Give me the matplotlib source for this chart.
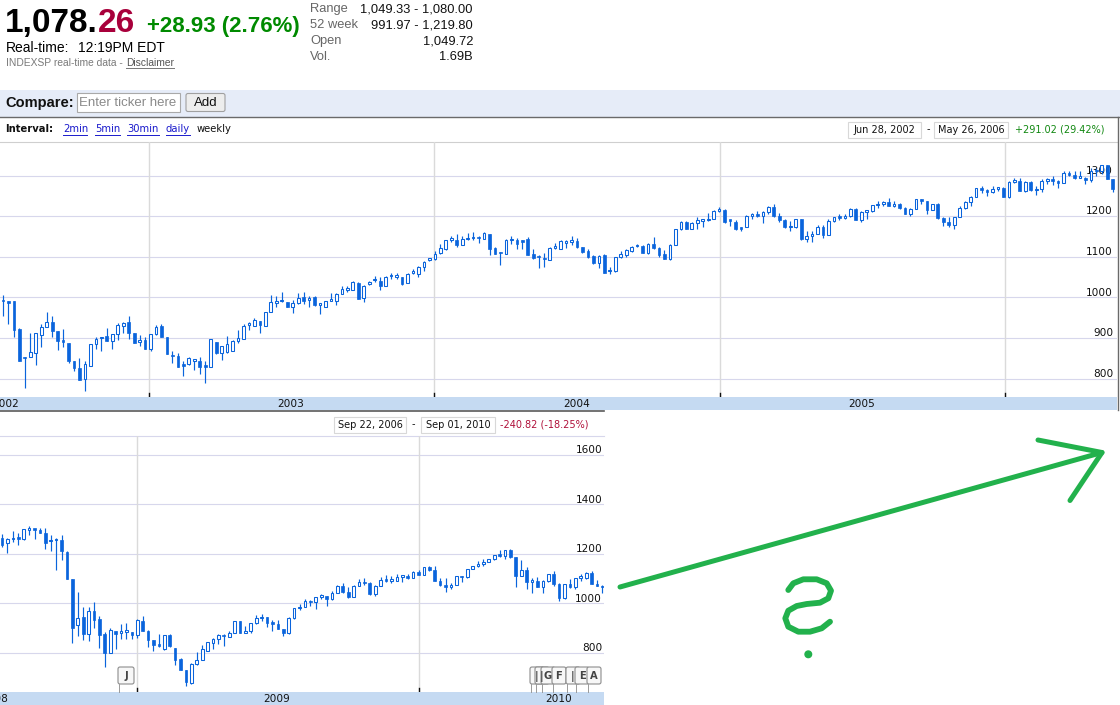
import numpy as np
import pandas as pd
import matplotlib
matplotlib.use('Agg')
import matplotlib.pyplot as plt
import matplotlib.dates as mdates
from matplotlib.patches import Rectangle, FancyBboxPatch, Circle
from matplotlib import transforms

# ------------------------------------------------------------------ data
top_start = '2002-06-28'          # weekly candles, Jun 28 2002 .. May 26 2006
top_open = [992, 992, 990, 922, 852, 854, 862, 907, 928, 940,
            916, 892, 888, 844, 825, 798, 831, 884, 899, 905,
            893, 910, 930, 940, 912, 891, 895, 873, 909, 930,
            902, 857, 856, 834, 836, 844, 842, 830, 829, 891,
            862, 866, 868, 893, 898, 933, 930, 942, 930, 965,
            987, 990, 989, 976, 985, 1000, 994, 1000, 982, 976,
            991, 992, 1008, 1019, 1018, 1036, 998, 1033, 1042, 1039,
            1029, 1052, 1051, 1049, 1035, 1061, 1058, 1074, 1093, 1094,
            1109, 1120, 1141, 1142, 1130, 1143, 1145, 1146, 1144, 1157,
            1121, 1109, 1107, 1140, 1142, 1138, 1144, 1107, 1100, 1095,
            1093, 1122, 1120, 1134, 1137, 1138, 1124, 1113, 1102, 1084,
            1104, 1064, 1064, 1100, 1105, 1113, 1126, 1127, 1108, 1131,
            1121, 1107, 1094, 1130, 1167, 1185, 1169, 1182, 1189, 1190,
            1193, 1213, 1214, 1189, 1185, 1170, 1173,
            1201, 1206, 1201,
            1211, 1222, 1200, 1190, 1172, 1172, 1192, 1143, 1152, 1157,
            1172, 1154, 1189, 1198, 1196, 1201, 1217, 1191, 1211, 1212,
            1227, 1229, 1234, 1226, 1230, 1220, 1205, 1218, 1241, 1237,
            1215, 1229, 1195, 1186, 1179, 1198, 1220, 1235, 1248, 1268,
            1265, 1259, 1267, 1268, 1248, 1285, 1287, 1261, 1283, 1264,
            1266, 1287, 1289, 1287, 1282, 1307, 1302, 1295, 1295, 1289,
            1311, 1310, 1326, 1291, 1267]
top_high = [1005, 992, 992, 924, 854, 912, 913, 935, 963, 954,
            916, 922, 888, 844, 850, 843, 884, 902, 902, 924,
            910, 936, 939, 954, 913, 908, 903, 910, 932, 934,
            903, 868, 864, 843, 852, 847, 852, 842, 898, 891,
            879, 905, 895, 919, 934, 938, 949, 942, 963, 1006,
            1002, 1014, 989, 994, 1010, 1014, 1002, 1004, 985, 990,
            1010, 1010, 1028, 1027, 1039, 1037, 1031, 1039, 1053, 1049,
            1052, 1061, 1061, 1050, 1060, 1070, 1077, 1089, 1096, 1114,
            1132, 1142, 1152, 1156, 1150, 1159, 1160, 1152, 1162, 1157,
            1124, 1112, 1143, 1150, 1145, 1142, 1148, 1120, 1104, 1110,
            1125, 1133, 1142, 1142, 1150, 1145, 1125, 1118, 1104, 1103,
            1106, 1074, 1100, 1115, 1120, 1126, 1131, 1130, 1133, 1148,
            1124, 1116, 1132, 1168, 1187, 1187, 1185, 1198, 1192, 1208,
            1214, 1222, 1218, 1191, 1190, 1172, 1203,
            1208, 1212, 1212,
            1225, 1229, 1207, 1192, 1189, 1192, 1193, 1164, 1164, 1178,
            1178, 1192, 1199, 1205, 1206, 1220, 1219, 1212, 1212, 1228,
            1237, 1238, 1245, 1237, 1232, 1223, 1221, 1243, 1243, 1237,
            1230, 1233, 1197, 1197, 1199, 1224, 1236, 1249, 1269, 1273,
            1266, 1275, 1272, 1271, 1286, 1295, 1294, 1286, 1287, 1275,
            1291, 1293, 1298, 1289, 1310, 1310, 1310, 1310, 1296, 1318,
            1318, 1326, 1327, 1291, 1285]
top_low = [953, 935, 903, 842, 776, 854, 833, 877, 928, 903,
           870, 877, 837, 818, 796, 769, 831, 872, 868, 893,
           872, 895, 912, 897, 888, 880, 873, 868, 907, 901,
           860, 839, 828, 806, 833, 820, 811, 790, 828, 860,
           845, 864, 868, 887, 898, 920, 930, 912, 930, 965,
           975, 988, 975, 961, 984, 984, 976, 979, 959, 975,
           990, 982, 1008, 1014, 1017, 995, 989, 1031, 1037, 1017,
           1029, 1044, 1045, 1031, 1035, 1058, 1049, 1066, 1089, 1093,
           1107, 1117, 1137, 1123, 1128, 1140, 1140, 1134, 1144, 1105,
           1107, 1080, 1107, 1132, 1120, 1118, 1104, 1095, 1073, 1075,
           1092, 1118, 1118, 1122, 1128, 1122, 1108, 1098, 1083, 1073,
           1060, 1058, 1063, 1098, 1100, 1112, 1124, 1108, 1106, 1120,
           1100, 1094, 1093, 1128, 1165, 1168, 1168, 1168, 1172, 1188,
           1192, 1210, 1183, 1175, 1165, 1164, 1172,
           1193, 1198, 1184,
           1205, 1199, 1186, 1171, 1163, 1171, 1142, 1137, 1137, 1155,
           1146, 1153, 1186, 1191, 1192, 1199, 1190, 1186, 1194, 1210,
           1221, 1225, 1225, 1222, 1218, 1205, 1201, 1218, 1230, 1205,
           1214, 1192, 1176, 1174, 1168, 1198, 1218, 1226, 1248, 1258,
           1250, 1258, 1262, 1248, 1245, 1281, 1261, 1260, 1262, 1253,
           1260, 1280, 1277, 1268, 1282, 1299, 1291, 1294, 1280, 1283,
           1298, 1303, 1291, 1259, 1252]
top_close = [990, 987, 920, 844, 850, 865, 912, 928, 940, 916,
             893, 890, 842, 827, 796, 835, 884, 897, 901, 893,
             910, 932, 936, 912, 888, 893, 873, 910, 928, 901,
             860, 855, 828, 832, 850, 845, 828, 829, 897, 862,
             879, 885, 893, 899, 930, 935, 944, 932, 963, 988,
             989, 993, 976, 985, 998, 992, 996, 980, 983, 990,
             993, 1008, 1020, 1021, 1037, 996, 1029, 1036, 1044, 1027,
             1051, 1053, 1052, 1033, 1058, 1062, 1074, 1088, 1095, 1107,
             1122, 1140, 1142, 1130, 1144, 1145, 1146, 1145, 1158, 1119,
             1107, 1108, 1142, 1141, 1132, 1136, 1105, 1097, 1099, 1094,
             1122, 1124, 1138, 1135, 1138, 1124, 1111, 1099, 1084, 1102,
             1061, 1066, 1099, 1107, 1116, 1124, 1127, 1109, 1131, 1121,
             1105, 1094, 1130, 1167, 1185, 1169, 1183, 1191, 1190, 1192,
             1212, 1214, 1185, 1188, 1167, 1168, 1201,
             1206, 1201, 1211,
             1222, 1200, 1190, 1172, 1172, 1192, 1143, 1152, 1157, 1172,
             1154, 1189, 1198, 1196, 1201, 1217, 1191, 1211, 1212, 1227,
             1229, 1234, 1226, 1230, 1220, 1205, 1218, 1241, 1237, 1215,
             1229, 1195, 1186, 1179, 1198, 1220, 1235, 1248, 1268, 1265,
             1259, 1267, 1268, 1248, 1285, 1287, 1261, 1283, 1264, 1266,
             1287, 1289, 1287, 1282, 1307, 1302, 1295, 1295, 1289, 1311,
             1310, 1326, 1291, 1267, 1280]

bot_start = '2008-07-11'          # weekly candles, Jul 11 2008 .. Aug 27 2010
bot_open = [1263, 1243, 1258, 1262, 1260, 1298, 1298, 1296, 1286, 1251,
            1254, 1255, 1209, 1097, 913, 943, 876, 967, 936, 877,
            799, 889, 880, 884, 886, 870, 929, 890, 850, 830,
            816, 870, 819, 776, 732, 678, 756, 769, 806, 839,
            857, 868, 863, 879, 929, 882, 887, 919, 940, 946,
            921, 918, 896, 879, 940, 979, 987, 1010, 1004, 1026,
            1029, 1016, 1042, 1068, 1044, 1025, 1071, 1087, 1080, 1036,
            1069, 1093, 1091, 1091, 1106, 1106, 1102, 1127, 1115, 1145,
            1136, 1092, 1074, 1066, 1075, 1109, 1105, 1139, 1150, 1160,
            1167, 1178, 1194, 1192, 1217, 1187, 1111, 1136, 1088, 1089,
            1065, 1092, 1117, 1076, 1022, 1078, 1065, 1102, 1102, 1122,
            1079, 1071]
bot_high = [1280, 1263, 1292, 1283, 1300, 1314, 1300, 1306, 1306, 1276,
            1263, 1276, 1210, 1098, 1044, 985, 985, 1007, 949, 886,
            900, 890, 916, 920, 886, 936, 947, 893, 850, 875,
            870, 875, 819, 779, 732, 758, 803, 832, 843, 859,
            875, 875, 889, 929, 930, 909, 920, 951, 956, 946,
            934, 931, 898, 943, 980, 996, 1018, 1013, 1027, 1039,
            1031, 1048, 1074, 1080, 1065, 1073, 1097, 1101, 1085, 1072,
            1105, 1113, 1112, 1120, 1108, 1117, 1130, 1133, 1145, 1150,
            1150, 1104, 1104, 1081, 1110, 1112, 1139, 1151, 1170, 1181,
            1181, 1194, 1214, 1217, 1219, 1188, 1173, 1148, 1104, 1106,
            1093, 1120, 1131, 1080, 1078, 1099, 1103, 1120, 1128, 1129,
            1095, 1075]
bot_low = [1226, 1202, 1247, 1236, 1256, 1276, 1261, 1283, 1218, 1212,
           1135, 1175, 1097, 839, 866, 853, 846, 900, 819, 742,
           799, 815, 855, 855, 855, 859, 890, 822, 806, 822,
           812, 822, 752, 732, 664, 675, 752, 769, 806, 815,
           836, 826, 863, 879, 878, 879, 880, 916, 930, 904,
           888, 896, 869, 875, 935, 972, 986, 990, 978, 1018,
           991, 1015, 1040, 1041, 1020, 1025, 1070, 1074, 1033, 1030,
           1069, 1085, 1083, 1090, 1086, 1097, 1102, 1115, 1115, 1130,
           1090, 1071, 1044, 1057, 1075, 1087, 1104, 1137, 1147, 1150,
           1165, 1175, 1186, 1181, 1185, 1066, 1111, 1056, 1040, 1065,
           1042, 1088, 1071, 1010, 1018, 1063, 1056, 1089, 1100, 1076,
           1069, 1040]
bot_close = [1236, 1260, 1260, 1260, 1299, 1300, 1296, 1283, 1243, 1252,
             1255, 1213, 1097, 900, 940, 876, 967, 933, 873, 799,
             893, 876, 882, 887, 870, 933, 890, 850, 830, 828,
             870, 826, 769, 732, 680, 756, 769, 815, 843, 857,
             870, 866, 879, 929, 882, 887, 919, 940, 946, 921,
             918, 896, 879, 940, 979, 987, 1010, 1004, 1026, 1029,
             1016, 1042, 1068, 1044, 1025, 1071, 1087, 1080, 1036, 1069,
             1093, 1091, 1091, 1106, 1106, 1102, 1127, 1115, 1145, 1136,
             1092, 1074, 1066, 1075, 1109, 1105, 1139, 1150, 1160, 1167,
             1178, 1194, 1192, 1217, 1187, 1111, 1136, 1088, 1089, 1065,
             1092, 1117, 1076, 1022, 1078, 1065, 1102, 1102, 1122, 1079,
             1071, 1065]

top_yticks = [800, 900, 1000, 1100, 1200, 1300]
bot_yticks = [800, 1000, 1200, 1400, 1600]
top_year_lines = [2003, 2004, 2005, 2006]
top_year_labels = [2002, 2003, 2004, 2005]
bot_year_lines = [2009, 2010]
bot_year_labels = [2008, 2009, 2010]

# ------------------------------------------------------------------ figure
W, H = 1120, 705
BLUE = '#0a64dc'
HGRID = '#d7d7ec'
VGRID = '#dadada'
BAND = '#c5daf2'
SANS = 'Liberation Sans'
VERD = 'DejaVu Sans'

fig = plt.figure(figsize=(W / 100, H / 100), dpi=100)
fig.patch.set_facecolor('white')


def axpix(x0, y0, x1, y1, z=1):
    a = fig.add_axes([x0 / W, 1 - y1 / H, (x1 - x0) / W, (y1 - y0) / H])
    a.set_zorder(z)
    return a


ui = axpix(0, 0, W, H, z=0)
ui.set_xlim(0, W)
ui.set_ylim(H, 0)
ui.axis('off')

# ---------------- header
t1 = ui.text(5, 32, '1,078.', fontsize=24, fontweight='bold', family=SANS,
             color='black', va='baseline')
ui.annotate('26', xy=(1, 0), xycoords=t1, fontsize=24, fontweight='bold',
            family=SANS, color='#a8003b', va='bottom', ha='left')
ui.text(147, 32, '+28.93 (2.76%)', fontsize=16, fontweight='bold', family=SANS,
        color='#008a00', va='baseline')
ui.text(6, 52.5, 'Real-time:', fontsize=10, family=SANS, color='black', va='baseline')
ui.text(78, 52.5, '12:19PM EDT', fontsize=10, family=SANS, color='black', va='baseline')
ui.text(6, 66.5, 'INDEXSP real-time data -', fontsize=7.4, family=SANS,
        color='#7a7a7a', va='baseline')
ui.text(126, 66.5, 'Disclaimer', fontsize=7.4, family=SANS, color='#555555', va='baseline')
ui.plot([126, 174], [68.3, 68.3], color='#777777', lw=0.7)

stat_labels = ['Range', '52 week', 'Open', 'Vol.']
stat_values = ['1,049.33 - 1,080.00', '991.97 - 1,219.80', '1,049.72', '1.69B']
for i, (lab, val) in enumerate(zip(stat_labels, stat_values)):
    yy = 12.3 + 16 * i
    ui.text(310, yy, lab, fontsize=9.3, family=SANS, color='#666666', va='baseline')
    ui.text(473, yy, val, fontsize=9.3, family=SANS, color='#111111', va='baseline', ha='right')

# ---------------- compare bar
ui.add_patch(Rectangle((0, 90), W, 27, facecolor='#e6ecf8', edgecolor='none'))
ui.plot([0, W], [117, 117], color='#6a6a6a', lw=1.0)
ui.text(5, 102.5, 'Compare:', fontsize=10.5, fontweight='bold', family=SANS,
        color='#111111', va='center')
ui.add_patch(Rectangle((76.5, 92.5), 103.5, 19.5, facecolor='white',
                       edgecolor='#a9a9a9', lw=0.8))
ui.text(79, 102.5, 'Enter ticker here', fontsize=9.5, family=SANS,
        color='#8a8a8a', va='center')
ui.add_patch(FancyBboxPatch((186, 93.5), 39, 18, boxstyle='round,pad=0,rounding_size=2',
                            facecolor='#ededed', edgecolor='#a0a0a0', lw=0.8))
ui.text(205.5, 102.5, 'Add', fontsize=9.5, family=SANS, color='#111111',
        va='center', ha='center')

# ---------------- interval row
ui.text(5, 129.5, 'Interval:', fontsize=7.2, fontweight='bold', family=VERD,
        color='#111111', va='center')
links = [('2min', 63), ('5min', 95), ('30min', 127), ('daily', 166)]
for txt, xx in links:
    ui.text(xx, 129.5, txt, fontsize=7.2, family=VERD, color='#1a1acc', va='center')
ui.text(197, 129.5, 'weekly', fontsize=7.2, family=VERD, color='#111111', va='center')
for xx, ww in [(63, 24), (95, 25), (127, 32), (166, 24)]:
    ui.plot([xx, xx + ww], [135, 135], color='#1a1acc', lw=0.7)


def datebox(x0, x1, y0, y1, txt):
    ui.add_patch(Rectangle((x0, y0), x1 - x0, y1 - y0, facecolor='white',
                           edgecolor='#d8d8d8', lw=0.8))
    ui.text((x0 + x1) / 2, (y0 + y1) / 2 + 0.5, txt, fontsize=7, family=VERD,
            color='#111111', ha='center', va='center')


datebox(848, 921, 121.5, 137.5, 'Jun 28, 2002')
ui.text(928, 129.5, '-', fontsize=7, family=VERD, color='#111111', ha='center', va='center')
datebox(934, 1008, 121.5, 137.5, 'May 26, 2006')
ui.text(1015, 129.8, '+291.02 (29.42%)', fontsize=7, family=VERD, color='#118811', va='center')

datebox(334, 406, 416.5, 432.5, 'Sep 22, 2006')
ui.text(413, 424.5, '-', fontsize=7, family=VERD, color='#111111', ha='center', va='center')
datebox(421, 495, 416.5, 432.5, 'Sep 01, 2010')
ui.text(500, 424.8, '-240.82 (-18.25%)', fontsize=7, family=VERD, color='#b0103a', va='center')

# chart frame lines
ui.plot([0, 1117], [142, 142], color='#cfcfcf', lw=0.8)
ui.plot([1117.5, 1117.5], [117, 410], color='#6a6a6a', lw=1.0)
ui.plot([0, 604], [410.5, 410.5], color='#5a5a5a', lw=1.2)
ui.plot([0, 604], [436, 436], color=HGRID, lw=0.8)


# ---------------- candle helper
def draw_candles(ax, dates, o, h, l, c, ppd, ppu):
    x = mdates.date2num(dates)
    o, h, l, c = map(np.asarray, (o, h, l, c))
    ax.vlines(x, l, h, color=BLUE, lw=0.85, zorder=3)
    up = c >= o
    bottom = np.minimum(o, c)
    height = np.maximum(np.abs(c - o), 1.6 / ppu)
    w = 2.7 / ppd
    ax.bar(x[up], height[up], bottom=bottom[up], width=w, facecolor='white',
           edgecolor=BLUE, lw=0.75, zorder=4)
    ax.bar(x[~up], height[~up], bottom=bottom[~up], width=w, facecolor=BLUE,
           edgecolor=BLUE, lw=0.5, zorder=4)


def setup_chart(px0, py0, px1, py1, band_y1, d0, p0, d1, p1, y1000, ppu,
                yticks, year_lines, year_labels, dates, o, h, l, c, label_x):
    ppd = (p1 - p0) / (mdates.date2num(pd.Timestamp(d1)) - mdates.date2num(pd.Timestamp(d0)))
    x0 = mdates.date2num(pd.Timestamp(d0)) - (p0 - px0) / ppd
    x1 = x0 + (px1 - px0) / ppd
    ax = axpix(px0, py0, px1, py1, z=2)
    ax.set_facecolor('none')
    ax.set_xlim(x0, x1)
    ax.set_ylim(1000 - (py1 - y1000) / ppu, 1000 + (y1000 - py0) / ppu)
    for s in ax.spines.values():
        s.set_visible(False)
    ax.set_xticks([])
    ax.set_yticks([])
    for v in yticks:
        ax.axhline(v, color=HGRID, lw=0.8, zorder=1)
    ytr = transforms.blended_transform_factory(ax.transAxes, ax.transData)
    ytr = transforms.offset_copy(ytr, fig=fig, x=0, y=1.2, units='points')
    for v in yticks:
        ax.text(label_x, v, str(v), transform=ytr, ha='right', va='baseline',
                fontsize=7.6, family=VERD, color='#111111', zorder=2)
    xtr = transforms.blended_transform_factory(ax.transData, ax.transAxes)
    for yr in year_lines:
        xb = mdates.date2num(pd.Timestamp(f'{yr}-01-01'))
        ax.axvline(xb, color=VGRID, lw=1.0, zorder=1)
        ax.plot([xb, xb], [0, 4.5 / (py1 - py0)], transform=xtr,
                color='#111111', lw=1.0, zorder=2, clip_on=False)
    draw_candles(ax, dates, o, h, l, c, ppd, ppu)

    band = axpix(px0, py1, px1, band_y1, z=2)
    band.set_facecolor(BAND)
    band.set_xlim(x0, x1)
    band.set_ylim(0, 1)
    for s in band.spines.values():
        s.set_visible(False)
    band.set_xticks([])
    band.set_yticks([])
    for yr in year_labels:
        xm = mdates.date2num(pd.Timestamp(f'{yr}-07-02'))
        band.text(xm, 0.45, str(yr), ha='center', va='center', fontsize=7.6,
                  family=VERD, color='#111111', clip_on=True)
    return ax


top_dates = pd.date_range(top_start, periods=len(top_close), freq='7D')
bot_dates = pd.date_range(bot_start, periods=len(bot_close), freq='7D')

ax_top = setup_chart(0, 142, 1117, 397, 410, '2003-01-01', 149, '2006-01-01', 1005,
                     297.3, 0.406, top_yticks, top_year_lines, top_year_labels, top_dates,
                     top_open, top_high, top_low, top_close, 0.9965)
ax_bot = setup_chart(0, 436, 604, 692, 705, '2009-01-01', 136.5, '2010-01-01', 418.5,
                     603.3, 0.2475, bot_yticks, bot_year_lines, bot_year_labels, bot_dates,
                     bot_open, bot_high, bot_low, bot_close, 0.997)

# ---------------- overlay: news flags and hand drawing
ov = axpix(0, 0, W, H, z=5)
ov.set_xlim(0, W)
ov.set_ylim(H, 0)
ov.axis('off')
ov.patch.set_alpha(0)


def flag(x0, w, label, y0=667, y1=684):
    ov.plot([x0 + 0.5, x0 + 0.5], [y1, 692], color='#9a9a9a', lw=0.7)
    ov.add_patch(FancyBboxPatch((x0, y0), w, y1 - y0,
                                boxstyle='round,pad=0,rounding_size=2',
                                facecolor='#f7f7f7', edgecolor='#8c8c8c', lw=0.8))
    ov.text(x0 + w / 2, (y0 + y1) / 2 + 0.5, label, ha='center', va='center',
            fontsize=7.2, fontweight='bold', family=VERD, color='#444444')


flag(118, 16, 'J')
for xx, lab in [(530, '|'), (535, '|'), (541, 'G'), (552, 'F'), (566, '|'),
                (575, 'E'), (587, 'A')]:
    flag(xx, 14, lab)

GREEN = '#22b14c'
ov.plot([620, 1102], [587, 452.5], color=GREEN, lw=3.6, solid_capstyle='round')
ov.plot([1038, 1102, 1070], [440, 452.5, 500.5], color=GREEN, lw=3.6,
        solid_capstyle='round', solid_joinstyle='round')
qx = [788.3, 793.3, 803.3, 816.7, 826.7, 831.0, 828.3, 820.0, 806.7, 796.7,
      788.3, 785.3, 788.3, 798.3, 810.0, 821.7, 830.0]
qy = [590.0, 583.3, 579.3, 579.3, 583.3, 590.7, 598.3, 602.7, 604.0, 606.0,
      610.7, 618.3, 626.7, 631.7, 631.7, 628.3, 621.7]
ov.plot(qx, qy, color=GREEN, lw=4.2, solid_capstyle='round', solid_joinstyle='round')
ov.add_patch(Circle((808.3, 654.3), 3.3, color=GREEN))

fig.savefig('out.png', dpi=100, facecolor='white')
